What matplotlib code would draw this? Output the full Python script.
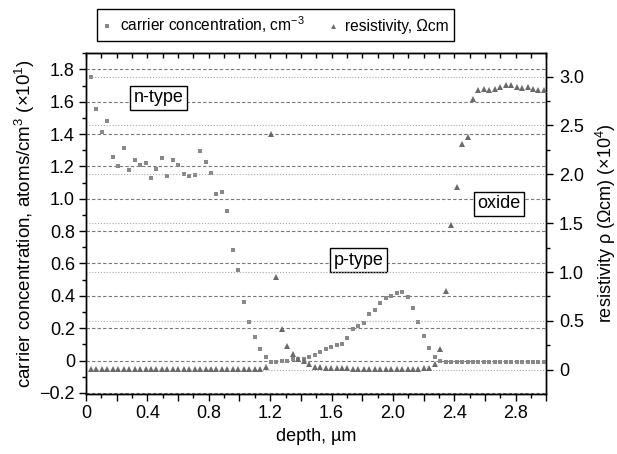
import matplotlib
matplotlib.use('Agg')
import matplotlib.pyplot as plt
from matplotlib.ticker import MultipleLocator, FuncFormatter

plt.rcParams['font.family'] = ['Liberation Sans', 'DejaVu Sans']
plt.rcParams['mathtext.fontset'] = 'custom'
plt.rcParams['mathtext.rm'] = 'Liberation Sans'
plt.rcParams['mathtext.it'] = 'Liberation Sans:italic'
plt.rcParams['font.size'] = 12

# depth positions of the samples, um
depth = [0.033, 0.068, 0.104, 0.139, 0.175, 0.210, 0.246, 0.281, 0.317, 0.353,
         0.388, 0.424, 0.459, 0.495, 0.530, 0.566, 0.601, 0.637, 0.673, 0.708,
         0.744, 0.779, 0.815, 0.850, 0.886, 0.921, 0.957, 0.992, 1.028, 1.064,
         1.099, 1.135, 1.170, 1.206, 1.241, 1.277, 1.312, 1.348, 1.384, 1.419,
         1.455, 1.490, 1.526, 1.561, 1.597, 1.632, 1.668, 1.703, 1.739, 1.775,
         1.810, 1.846, 1.881, 1.917, 1.952, 1.988, 2.023, 2.059, 2.095, 2.130,
         2.166, 2.201, 2.237, 2.272, 2.308, 2.343, 2.379, 2.415, 2.450, 2.486,
         2.521, 2.557, 2.592, 2.628, 2.663, 2.699, 2.734, 2.770, 2.806, 2.841,
         2.877, 2.912, 2.948, 2.983]

# carrier concentration (x10^1 atoms/cm3)
carrier = [1.754, 1.557, 1.414, 1.480, 1.260, 1.202, 1.313, 1.177, 1.241, 1.208,
           1.221, 1.130, 1.184, 1.252, 1.140, 1.241, 1.208, 1.153, 1.140, 1.147,
           1.297, 1.227, 1.159, 1.031, 1.043, 0.924, 0.685, 0.561, 0.363, 0.239,
           0.147, 0.070, 0.023, -0.008, -0.008, 0.000, 0.000, 0.007, 0.011, 0.011,
           0.019, 0.037, 0.054, 0.069, 0.081, 0.097, 0.103, 0.140, 0.194, 0.215,
           0.233, 0.289, 0.310, 0.357, 0.384, 0.400, 0.417, 0.425, 0.394, 0.326,
           0.239, 0.151, 0.079, 0.023, -0.004, -0.008, -0.008, -0.008, -0.008, -0.008,
           -0.008, -0.008, -0.008, -0.008, -0.008, -0.008, -0.008, -0.008, -0.008, -0.008,
           -0.008, -0.008, -0.008, -0.008]

# resistivity (x10^4 Ohm cm)
resist = [0.005, 0.005, 0.005, 0.005, 0.005, 0.005, 0.005, 0.005, 0.005, 0.005,
          0.005, 0.005, 0.005, 0.005, 0.005, 0.005, 0.005, 0.005, 0.005, 0.005,
          0.005, 0.005, 0.005, 0.005, 0.005, 0.005, 0.005, 0.005, 0.005, 0.005,
          0.005, 0.005, 0.025, 2.416, 0.952, 0.417, 0.243, 0.157, 0.110, 0.089,
          0.055, 0.031, 0.025, 0.020, 0.020, 0.020, 0.015, 0.015, 0.010, 0.010,
          0.010, 0.010, 0.010, 0.005, 0.005, 0.005, 0.005, 0.005, 0.010, 0.010,
          0.010, 0.015, 0.015, 0.055, 0.210, 0.806, 1.478, 1.867, 2.311, 2.379,
          2.771, 2.864, 2.874, 2.861, 2.877, 2.891, 2.915, 2.912, 2.891, 2.887,
          2.891, 2.871, 2.867, 2.867]

xticks_labelled = [0, 0.4, 0.8, 1.2, 1.6, 2.0, 2.4, 2.8]

fig = plt.figure(figsize=(6.17, 4.54), dpi=100)
ax = fig.add_axes([0.1394, 0.1322, 0.7463, 0.7517])
ax2 = ax.twinx()

ax.set_xlim(0, 3.0)
ax.set_ylim(-0.207, 1.903)
ax2.set_ylim(-0.248, 3.245)

# grid lines
ax.yaxis.grid(True, linestyle=(0, (3, 2)), color='#777777', linewidth=0.8)
ax2.yaxis.grid(True, linestyle=(0, (1, 1.6)), color='#aaaaaa', linewidth=0.8)
ax.set_axisbelow(True)
ax2.set_axisbelow(True)

sq, = ax.plot(depth, carrier, 's', color='#888888', markersize=3.5,
              markeredgewidth=0, zorder=3)
tr, = ax2.plot(depth, resist, '^', color='#6a6a6a', markersize=4.4,
               markeredgewidth=0, zorder=3)

def fmt(v, pos):
    if abs(v) < 1e-9:
        return '0'
    return ('%.1f' % v).replace('-', '\u2212')

def xfmt(v, pos):
    for t in xticks_labelled:
        if abs(v - t) < 1e-6:
            return '0' if t == 0 else '%.1f' % t
    return ''

ax.xaxis.set_major_locator(MultipleLocator(0.2))
ax.xaxis.set_minor_locator(MultipleLocator(0.1))
ax.xaxis.set_major_formatter(FuncFormatter(xfmt))
ax.yaxis.set_major_locator(MultipleLocator(0.2))
ax.yaxis.set_minor_locator(MultipleLocator(0.1))
ax.yaxis.set_major_formatter(FuncFormatter(fmt))
ax2.yaxis.set_major_locator(MultipleLocator(0.5))
ax2.yaxis.set_minor_locator(MultipleLocator(0.25))
ax2.yaxis.set_major_formatter(FuncFormatter(fmt))

ax.tick_params(axis='both', which='major', direction='out', length=5, width=1,
               labelsize=13, pad=3)
ax.tick_params(axis='both', which='minor', direction='out', length=3, width=1)
ax2.tick_params(axis='y', which='major', direction='out', length=5, width=1,
                labelsize=13, pad=4)
ax2.tick_params(axis='y', which='minor', direction='out', length=3, width=1)

top = ax.secondary_xaxis('top')
top.xaxis.set_major_locator(MultipleLocator(0.2))
top.xaxis.set_minor_locator(MultipleLocator(0.1))
top.tick_params(axis='x', which='both', direction='in', length=3.5, width=1,
                labeltop=False)

for a in (ax, ax2):
    for s in a.spines.values():
        s.set_linewidth(1)

ax.set_xlabel('depth, \u00b5m', fontsize=13, labelpad=4)
ax.set_ylabel('carrier concentration, atoms/cm$^3$ (\u00d710$^1$)',
              fontsize=13.5, labelpad=2)
ax2.set_ylabel('resistivity \u03c1 (\u03a9cm) (\u00d710$^4$)', fontsize=13,
               labelpad=7)

box = dict(boxstyle='square,pad=0.2', facecolor='white', edgecolor='black',
           linewidth=1)
ax.text(0.475, 1.623, 'n-type', ha='center', va='center', fontsize=13, bbox=box,
        zorder=5)
ax.text(1.776, 0.619, 'p-type', ha='center', va='center', fontsize=13, bbox=box,
        zorder=5)
ax.text(2.692, 0.970, 'oxide', ha='center', va='center', fontsize=13, bbox=box,
        zorder=5)

leg = ax.legend([sq, tr], ['carrier concentration, cm$^{-3}$',
                           'resistivity, \u03a9cm'],
                ncol=2, loc='center', bbox_to_anchor=(0.412, 1.081),
                fancybox=False, edgecolor='black', framealpha=1,
                fontsize=11.2, handlelength=0.6, handletextpad=0.5,
                columnspacing=1.5, borderpad=0.35, borderaxespad=0,
                markerscale=0.8)
leg.get_frame().set_linewidth(1)

fig.savefig('out.png', dpi=100)
